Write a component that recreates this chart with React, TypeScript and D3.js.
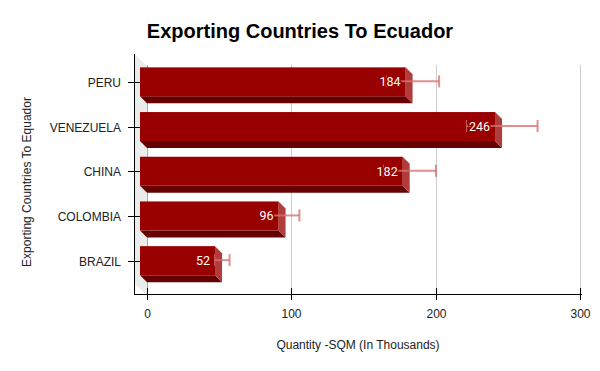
import React, { useEffect, useRef } from "react";
import * as d3 from "d3";

const countries = ["PERU", "VENEZUELA", "CHINA", "COLOMBIA", "BRAZIL"];
const quantities = [184, 246, 182, 96, 52];
const errors = [18.4, 24.6, 18.2, 9.6, 5.2];
const xTicks = [0, 100, 200, 300];

const App = () => {
  const ref = useRef<SVGSVGElement>(null);

  useEffect(() => {
    const svg = d3.select(ref.current);
    svg.selectAll("*").remove();

    const width = 600;
    const height = 371;
    const depth = 7; // bar extrusion
    const font = "Arial, 'Liberation Sans', sans-serif";

    // back plane scale
    const x = d3.scaleLinear().domain([0, 300]).range([147, 580]);
    const y = d3.scaleBand().domain(countries).range([59.5, 283]);
    const barH = 29;

    svg.attr("width", width).attr("height", height);

    // left 3d wall
    svg
      .append("path")
      .attr("d", "M134,54 L147,66 L147,295 L134,283 Z")
      .attr("fill", "#ececec");

    // gridlines
    svg
      .selectAll("line.grid")
      .data(xTicks)
      .enter()
      .append("line")
      .attr("class", "grid")
      .attr("x1", (d) => Math.round(x(d)) + 0.5)
      .attr("x2", (d) => Math.round(x(d)) + 0.5)
      .attr("y1", 65)
      .attr("y2", 294)
      .attr("stroke", (d) => (d === 0 ? "#aaa" : "#ccc"))
      .attr("stroke-width", 1);

    // bars
    const bars = svg
      .selectAll("g.bar")
      .data(countries)
      .enter()
      .append("g")
      .attr("class", "bar");

    bars.each(function (c, i) {
      const g = d3.select(this);
      const cy = (y(c) as number) + y.bandwidth() / 2;
      const top = cy - barH / 2;
      const bot = cy + barH / 2;
      const x0 = x(0) - depth;
      const x1 = x(quantities[i]) - depth;

      // bottom face
      g.append("path")
        .attr(
          "d",
          `M${x0},${bot} L${x1},${bot} L${x1 + depth},${bot + depth} L${x0 + depth},${bot + depth} Z`
        )
        .attr("fill", "#660000");
      // side face
      g.append("path")
        .attr(
          "d",
          `M${x1},${top} L${x1 + depth},${top + depth} L${x1 + depth},${bot + depth} L${x1},${bot} Z`
        )
        .attr("fill", "#b03c3c");
      // front face
      g.append("rect")
        .attr("x", x0)
        .attr("y", top)
        .attr("width", x1 - x0)
        .attr("height", barH)
        .attr("fill", "#990000");

      // error bar
      const lo = x(quantities[i] - errors[i]);
      const hi = x(quantities[i] + errors[i]);
      const ey = cy - 0.5;
      const eg = g
        .append("g")
        .attr("stroke", "rgb(215,115,115)")
        .attr("stroke-opacity", 0.8)
        .attr("stroke-width", 2);
      eg.append("line").attr("x1", lo).attr("x2", hi).attr("y1", ey).attr("y2", ey);
      eg.append("line").attr("x1", lo).attr("x2", lo).attr("y1", ey - 6).attr("y2", ey + 6).attr("stroke-width", 1);
      eg.append("line").attr("x1", hi).attr("x2", hi).attr("y1", ey - 6).attr("y2", ey + 6);

      // value label
      g.append("text")
        .attr("x", x1 - 5)
        .attr("y", cy)
        .attr("dy", "0.35em")
        .attr("text-anchor", "end")
        .attr("fill", "#fff")
        .attr("stroke", "#990000")
        .attr("stroke-width", 3)
        .attr("paint-order", "stroke")
        .attr("font-family", "Roboto, 'Open Sans', sans-serif")
        .attr("font-size", 12.5)
        .text(quantities[i]);
    });

    // y axis
    svg
      .append("line")
      .attr("x1", 134.5)
      .attr("x2", 134.5)
      .attr("y1", 54)
      .attr("y2", 294.5)
      .attr("stroke", "#000");
    countries.forEach((c) => {
      const cy = Math.round((y(c) as number) + y.bandwidth() / 2) + 0.5;
      svg
        .append("line")
        .attr("x1", 128)
        .attr("x2", 140)
        .attr("y1", cy)
        .attr("y2", cy)
        .attr("stroke", "#000");
      svg
        .append("text")
        .attr("x", 121)
        .attr("y", cy)
        .attr("dy", "0.35em")
        .attr("text-anchor", "end")
        .attr("font-family", font)
        .attr("font-size", 12)
        .attr("fill", "#222")
        .text(c);
    });

    // x axis
    svg
      .append("line")
      .attr("x1", 134)
      .attr("x2", 582)
      .attr("y1", 294.5)
      .attr("y2", 294.5)
      .attr("stroke", "#000");
    xTicks.forEach((t) => {
      const tx = Math.round(x(t)) + 0.5;
      svg
        .append("line")
        .attr("x1", tx)
        .attr("x2", tx)
        .attr("y1", 288)
        .attr("y2", 300)
        .attr("stroke", "#000");
      svg
        .append("text")
        .attr("x", tx)
        .attr("y", 318)
        .attr("text-anchor", "middle")
        .attr("font-family", font)
        .attr("font-size", 12)
        .attr("fill", "#222")
        .text(t);
    });

    // titles
    svg
      .append("text")
      .attr("x", 300)
      .attr("y", 38)
      .attr("text-anchor", "middle")
      .attr("font-family", font)
      .attr("font-weight", "bold")
      .attr("font-size", 20)
      .attr("fill", "#000")
      .text("Exporting Countries To Ecuador");

    svg
      .append("text")
      .attr("x", 358)
      .attr("y", 349)
      .attr("text-anchor", "middle")
      .attr("font-family", font)
      .attr("font-size", 12)
      .attr("fill", "#222")
      .text("Quantity -SQM (In Thousands)");

    svg
      .append("text")
      .attr("transform", "translate(31,182) rotate(-90)")
      .attr("text-anchor", "middle")
      .attr("font-family", font)
      .attr("font-size", 12)
      .attr("fill", "#222")
      .text("Exporting Countries To Equador");
  }, []);

  return (
    <svg
      ref={ref}
      style={{ position: "absolute", left: 0, top: 0, background: "#fff" }}
    />
  );
};

export default App;
